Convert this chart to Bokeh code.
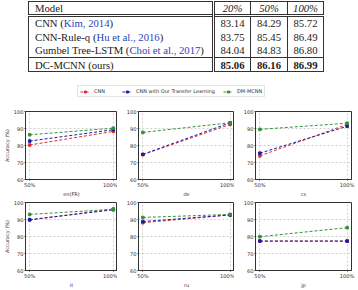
from bokeh.plotting import figure
from bokeh.models import Range1d, FixedTicker, Div, Legend, LegendItem
from bokeh.layouts import column, row
from bokeh.embed import file_html
from bokeh.resources import INLINE

# ---------------- table data ----------------
table_models = ["CNN", "CNN-Rule-q", "Gumbel Tree-LSTM", "DC-MCNN"]
table_cites = ["Kim, 2014", "Hu et al., 2016", "Choi et al., 2017", None]
table_cols = ["20%", "50%", "100%"]
table_vals = [
    [83.14, 84.29, 85.72],
    [83.75, 85.45, 86.49],
    [84.04, 84.83, 86.80],
    [85.06, 86.16, 86.99],
]

# ---------------- chart data ----------------
sizes = ["50%", "100%"]
langs = ["en(FR)", "de", "cs", "it", "ru", "jp"]
series_names = ["CNN", "CNN with Our Transfer Learning", "DM-MCNN"]
cnn_acc = [[80.3, 88.3], [74.6, 92.4], [73.9, 92.4], [89.7, 96.2], [88.1, 92.7], [77.3, 77.3]]
tl_acc = [[82.6, 89.3], [74.8, 93.4], [75.5, 91.3], [89.9, 95.7], [88.8, 92.7], [77.3, 77.3]]
dm_acc = [[86.3, 90.2], [87.7, 93.4], [89.5, 93.1], [93.0, 96.0], [91.2, 93.0], [79.9, 85.2]]
y_ticks = [60, 70, 80, 90, 100]

colors = ["#dd3030", "#1c1ca8", "#35923a"]
FONT = "DejaVu Sans"
LINE = "#333333"

# ---------------- table (HTML) ----------------
td = "padding:0;white-space:nowrap;vertical-align:middle;"
num_td = td + f"text-align:center;border-left:1px solid {LINE};"
first_td = td + f"text-align:left;padding-left:6px;border-right:3px double {LINE};"

html = [f'<div style="position:relative;width:358px;height:80px;">',
        f'<table style="position:absolute;left:28px;top:1px;border-collapse:collapse;table-layout:fixed;'
        f'width:295px;border:1px solid {LINE};font-family:\'Liberation Serif\';font-size:10.7px;color:#1a1a1a;line-height:12px;">',
        '<colgroup><col style="width:185px"><col style="width:37px"><col style="width:37px"><col style="width:36px"></colgroup>']
html.append(f'<tr style="height:13px;border-bottom:3px double {LINE};"><td style="{first_td}">Model</td>'
            + "".join(f'<td style="{num_td}font-style:italic;">{c}</td>' for c in table_cols) + "</tr>")
for i, (m, c, vals) in enumerate(zip(table_models, table_cites, table_vals)):
    last = i == len(table_models) - 1
    border = f"border-bottom:1px solid {LINE};" if i == len(table_models) - 2 else ""
    name = f'{m} (<span style="color:#2a44b8;">{c}</span>)' if c else f"{m} (ours)"
    weight = "font-weight:bold;" if last else ""
    html.append(f'<tr style="height:14px;{border}"><td style="{first_td}">{name}</td>'
                + "".join(f'<td style="{num_td}{weight}">{v:.2f}</td>' for v in vals) + "</tr>")
html.append("</table></div>")
table_div = Div(text="".join(html), width=358, height=80, margin=0)

# ---------------- legend figure ----------------
leg = figure(width=358, height=24, output_backend="svg", toolbar_location=None,
             x_range=Range1d(10, 11), y_range=Range1d(0, 1),
             x_axis_type=None, y_axis_type=None, min_border=0)
leg.outline_line_color = None
leg.xgrid.visible = False
leg.ygrid.visible = False
x_idx = list(range(len(sizes)))
items = []
for name, data, col in zip(series_names, [cnn_acc, tl_acc, dm_acc], colors):
    lr = leg.line(x_idx, data[0], line_color=col, line_dash="3 2", line_width=1)
    sr = leg.scatter(x_idx, data[0], marker="square", size=2.5, color=col)
    items.append(LegendItem(label=name, renderers=[lr, sr]))
legend = Legend(items=items, orientation="horizontal", location=(77, 7), margin=0,
                padding=2, spacing=8, glyph_width=10, glyph_height=5, label_standoff=4,
                label_text_font=FONT, label_text_font_size="5px", label_height=5,
                label_text_color="#333333", border_line_color="#cccccc", border_line_width=0.8,
                background_fill_color="white")
leg.add_layout(legend, "center")


# ---------------- panels ----------------
def make_panel(k, top, frame_h, bottom):
    bl = 21
    br = 7 if k % 3 == 2 else 0
    p = figure(width=bl + 96 + br, height=top + frame_h + bottom,
               output_backend="svg", toolbar_location=None,
               x_range=Range1d(-0.05, len(sizes) - 1 + 0.05), y_range=Range1d(y_ticks[0], y_ticks[-1]),
               min_border_left=bl, min_border_right=br, min_border_top=top, min_border_bottom=bottom)
    p.outline_line_color = LINE
    p.outline_line_width = 1
    p.xaxis.ticker = FixedTicker(ticks=x_idx)
    p.xaxis.major_label_overrides = {i: s for i, s in zip(x_idx, sizes)}
    p.yaxis.ticker = FixedTicker(ticks=y_ticks)
    p.xaxis.axis_label = langs[k]
    if k % 3 == 0:
        p.yaxis.axis_label = "Accuracy (%)"
    for ax in (p.xaxis, p.yaxis):
        ax.axis_line_color = LINE
        ax.major_tick_line_color = LINE
        ax.major_tick_out = 1
        ax.major_tick_in = 0
        ax.minor_tick_line_color = None
        ax.major_label_standoff = 1
        ax.major_label_text_font = FONT
        ax.major_label_text_font_size = "5.1px"
        ax.major_label_text_color = "#333333"
        ax.axis_label_standoff = 1
        ax.axis_label_text_font = FONT
        ax.axis_label_text_font_size = "5px"
        ax.axis_label_text_font_style = "normal"
        ax.axis_label_text_color = "#333333"
    p.xaxis.axis_label_standoff = 0
    for g in (p.xgrid, p.ygrid):
        g.grid_line_color = "#c4c4c4"
        g.grid_line_dash = "2 2"
        g.grid_line_width = 0.8
    for data, col in zip([cnn_acc, tl_acc, dm_acc], colors):
        p.line(x_idx, data[k], line_color=col, line_dash="3 2", line_width=1)
        p.scatter(x_idx, data[k], marker="square", size=2.5, color=col)
    return p


row1 = row([make_panel(k, 7, 75, 13) for k in range(3)], spacing=0)
row2 = row([make_panel(k, 3, 72, 16) for k in range(3, 6)], spacing=0)
layout = column([table_div, leg, row1, row2], spacing=0)

open("out.html", "w").write(file_html(layout, INLINE))
